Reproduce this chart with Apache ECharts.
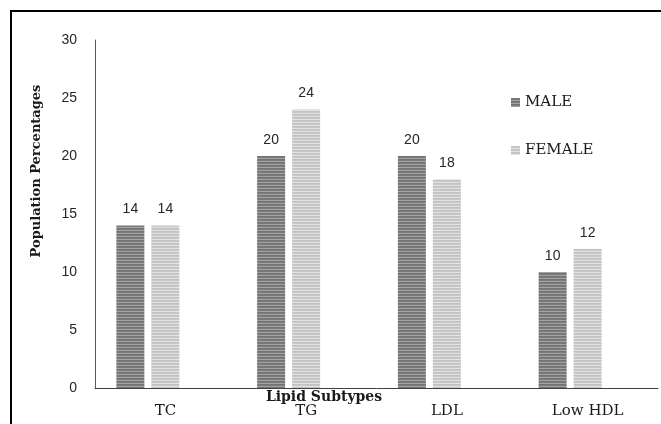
<!DOCTYPE html>
<html>
<head>
<meta charset="utf-8">
<script src="https://cdn.jsdelivr.net/npm/echarts@6/dist/echarts.min.js"></script>
<style>html,body{margin:0;padding:0;background:#fff}#c{width:661px;height:424px}</style>
</head>
<body>
<div id="c"></div>
<script>
var categories = ['TC', 'TG', 'LDL', 'Low HDL'];
var maleValues = [14, 20, 20, 10];
var femaleValues = [14, 24, 18, 12];
var seriesNames = ['MALE', 'FEMALE'];
var yTicks = [0, 5, 10, 15, 20, 25, 30];

function stripe(rows) {
  var cv = document.createElement('canvas');
  cv.width = 4; cv.height = rows.length;
  var ctx = cv.getContext('2d');
  rows.forEach(function (c, i) { ctx.fillStyle = c; ctx.fillRect(0, i, 4, 1); });
  return { image: cv, repeat: 'repeat' };
}
var maleFill = stripe(['#737373', '#7b7b7b', '#a2a2a2']);
var femaleFill = stripe(['#c2c2c2', '#c8c8c8', '#e2e2e2']);

var serif = 'DejaVu Serif';
var chart = echarts.init(document.getElementById('c'));
var labelStyle = { show: true, position: 'top', distance: 9, fontFamily: 'Liberation Sans', fontSize: 14, color: '#262626' };
chart.setOption({
  animation: false,
  grid: { left: 95, right: 3, top: 40, bottom: 36, containLabel: false },
  legend: {
    data: seriesNames, orient: 'vertical', left: 506, top: 90,
    itemWidth: 9, itemHeight: 9, itemGap: 33,
    textStyle: { fontFamily: serif, fontSize: 15, color: '#1a1a1a' },
    icon: 'rect'
  },
  xAxis: {
    type: 'category', data: categories,
    axisLine: { lineStyle: { color: '#404040', width: 1 } },
    axisTick: { show: false },
    axisLabel: { margin: 16, fontFamily: serif, fontSize: 15, color: '#1a1a1a' }
  },
  yAxis: {
    type: 'value', min: 0, max: 30, interval: 5,
    axisLine: { show: true, lineStyle: { color: '#595959', width: 1 } },
    axisTick: { show: false },
    splitLine: { show: false },
    axisLabel: { margin: 18, fontFamily: 'Liberation Sans', fontSize: 14, color: '#262626',
      formatter: function (v) { return yTicks.indexOf(v) >= 0 ? String(v) : ''; } }
  },
  series: [
    { name: seriesNames[0], type: 'bar', data: maleValues, barWidth: 28, barGap: '25%',
      itemStyle: { color: maleFill }, label: labelStyle },
    { name: seriesNames[1], type: 'bar', data: femaleValues, barWidth: 28, barGap: '25%',
      itemStyle: { color: femaleFill }, label: labelStyle },
    { name: 'spacer', type: 'bar', data: categories.map(function () { return null; }), barWidth: 28, barGap: '25%' }
  ],
  graphic: [
    { type: 'rect', shape: { x: 11, y: 11, width: 800, height: 600 }, style: { fill: 'none', stroke: '#000', lineWidth: 2 }, silent: true },
    { type: 'text', x: 324, y: 397, style: { text: 'Lipid Subtypes', font: 'bold 14px "DejaVu Serif"', fill: '#1a1a1a', align: 'center', verticalAlign: 'middle' } },
    { type: 'text', x: 37, y: 171, rotation: Math.PI / 2, style: { text: 'Population Percentages', font: 'bold 13px "DejaVu Serif"', fill: '#1a1a1a', align: 'center', verticalAlign: 'middle' } }
  ]
});
</script>
</body>
</html>
